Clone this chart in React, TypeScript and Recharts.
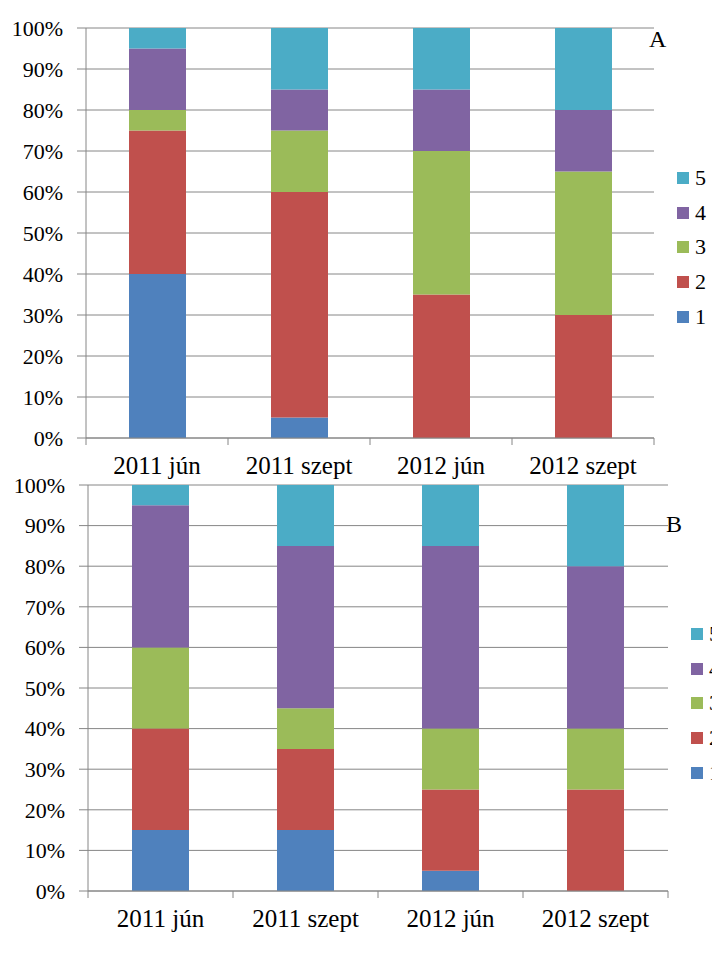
import { Bar, BarChart, CartesianGrid, XAxis, YAxis } from 'recharts'

const categories = ['2011 jún', '2011 szept', '2012 jún', '2012 szept']
const seriesNames = ['1', '2', '3', '4', '5']
const yTicks = [0, 10, 20, 30, 40, 50, 60, 70, 80, 90, 100]

// chart A
const a1 = [40, 5, 0, 0]
const a2 = [35, 55, 35, 30]
const a3 = [5, 15, 35, 35]
const a4 = [15, 10, 15, 15]
const a5 = [5, 15, 15, 20]

// chart B
const b1 = [15, 15, 5, 0]
const b2 = [25, 20, 20, 25]
const b3 = [20, 10, 15, 15]
const b4 = [35, 40, 45, 40]
const b5 = [5, 15, 15, 20]

const colors = ['#4F81BD', '#C0504D', '#9BBB59', '#8064A2', '#4BACC6']
const FONT = '"Liberation Serif", "Times New Roman", serif'
const GRID = '#868686'

function buildRows(series: number[][]) {
  return categories.map((cat, i) => {
    const row: Record<string, string | number> = { cat }
    seriesNames.forEach((name, k) => {
      row['s' + name] = series[k][i]
    })
    return row
  })
}

const dataA = buildRows([a1, a2, a3, a4, a5])
const dataB = buildRows([b1, b2, b3, b4, b5])

function makeTick(band: number) {
  return function CategoryTick(props: any) {
    const { x, y, payload, index } = props
    return (
      <g>
        <line x1={x - band / 2} x2={x - band / 2} y1={y} y2={y + 7} stroke={GRID} />
        {index === categories.length - 1 && (
          <line x1={x + band / 2} x2={x + band / 2} y1={y} y2={y + 7} stroke={GRID} />
        )}
        <text x={x} y={y + 36} textAnchor='middle' fontSize={25} fontFamily={FONT} fill='#000'>
          {payload.value}
        </text>
      </g>
    )
  }
}

function SeriesLegend({ left, top }: { left: number; top: number }) {
  const items = seriesNames.map((name, k) => ({ name, color: colors[k] })).reverse()
  return (
    <div style={{ position: 'absolute', left, top, width: 60, fontFamily: FONT }}>
      {items.map((item) => (
        <div key={item.name} style={{ display: 'flex', alignItems: 'center', height: 34.6, whiteSpace: 'nowrap' }}>
          <span style={{ width: 12, height: 12, flexShrink: 0, background: item.color, marginRight: 6 }} />
          <span style={{ fontSize: 22, lineHeight: 1, color: '#000' }}>{item.name}</span>
        </div>
      ))}
    </div>
  )
}

function StackChart({
  data,
  top,
  height,
  margin,
  yWidth,
  xHeight,
  legendPos,
  tag,
  tagPos,
}: {
  data: Record<string, string | number>[]
  top: number
  height: number
  margin: { top: number; right: number; left: number; bottom: number }
  yWidth: number
  xHeight: number
  legendPos: { left: number; top: number }
  tag: string
  tagPos: { x: number; y: number }
}) {
  const plotWidth = 720 - margin.left - margin.right - yWidth
  const band = plotWidth / categories.length
  return (
    <div style={{ position: 'absolute', left: 0, top, width: 720, height }}>
      <BarChart width={720} height={height} data={data} margin={margin} barSize={57}>
        <CartesianGrid vertical={false} stroke={GRID} />
        <XAxis
          dataKey='cat'
          height={xHeight}
          interval={0}
          tickSize={0}
          tickMargin={0}
          tickLine={false}
          axisLine={{ stroke: GRID }}
          tick={makeTick(band)}
        />
        <YAxis
          width={yWidth}
          domain={[0, 100]}
          ticks={yTicks}
          interval={0}
          tickFormatter={(v) => `${v}%`}
          tickSize={9}
          tickMargin={14}
          tickLine={{ stroke: GRID }}
          axisLine={{ stroke: GRID }}
          tick={{ fontSize: 22, fill: '#000', fontFamily: FONT }}
        />
        {seriesNames.map((name, k) => (
          <Bar
            key={name}
            dataKey={'s' + name}
            name={name}
            stackId='s'
            fill={colors[k]}
            isAnimationActive={false}
          />
        ))}
        <text x={tagPos.x} y={tagPos.y} fontSize={24} fontFamily={FONT} fill='#000'>
          {tag}
        </text>
      </BarChart>
      <SeriesLegend left={legendPos.left} top={legendPos.top} />
    </div>
  )
}

export default function App() {
  return (
    <div style={{ position: 'relative', width: 720, height: 960, margin: -8, background: '#fff', overflow: 'hidden' }}>
      <StackChart
        data={dataA}
        top={0}
        height={480}
        margin={{ top: 28, right: 66, left: 0, bottom: 0 }}
        yWidth={86}
        xHeight={42}
        legendPos={{ left: 677, top: 161 }}
        tag='A'
        tagPos={{ x: 649, y: 47 }}
      />
      <StackChart
        data={dataB}
        top={460}
        height={500}
        margin={{ top: 25, right: 52, left: 0, bottom: 0 }}
        yWidth={88}
        xHeight={69}
        legendPos={{ left: 691, top: 157 }}
        tag='B'
        tagPos={{ x: 666, y: 72 }}
      />
    </div>
  )
}
